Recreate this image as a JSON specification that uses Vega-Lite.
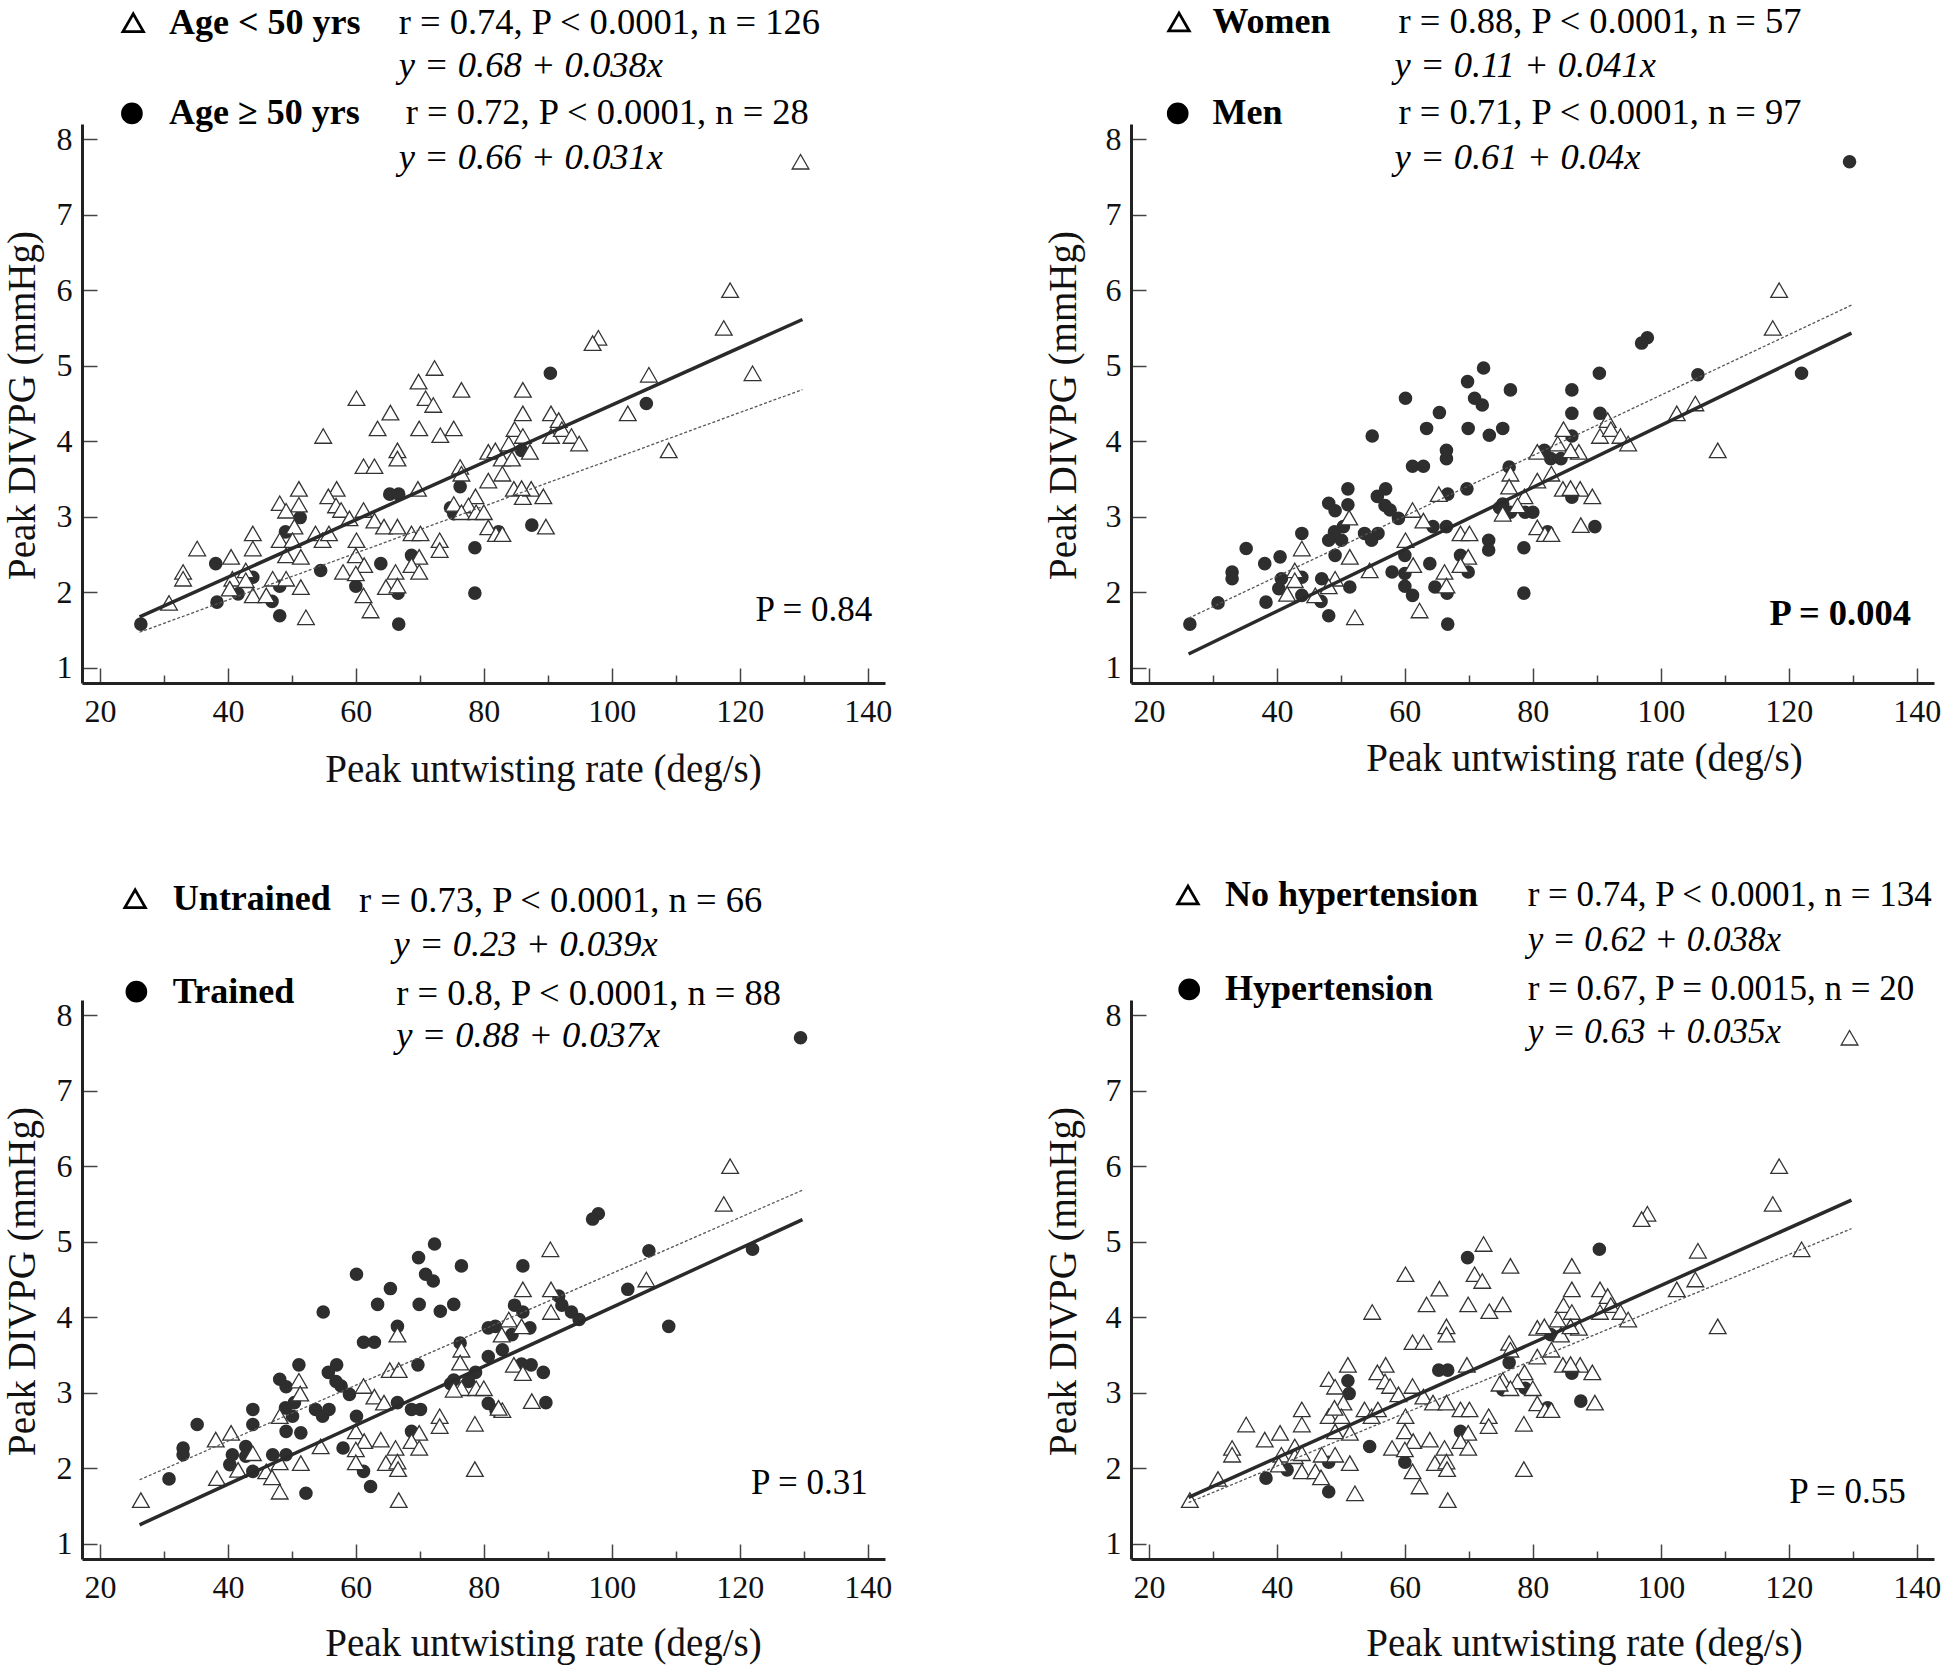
{
"$schema": "https://vega.github.io/schema/vega-lite/v6.json",
"background": "white",
"padding": {"left": 3, "top": 4, "right": 5, "bottom": 5},
"config": {
 "view": {"stroke": null},
 "point": {"opacity": 1},
 "text": {"font": "Liberation Serif", "color": "#000", "baseline": "middle", "align": "left", "fontSize": 36.5},
 "axis": {"domainColor": "#222", "domainWidth": 3, "tickColor": "#444", "tickWidth": 1.5, "labelFont": "Liberation Serif", "labelFontSize": 32, "labelColor": "#111", "titleFont": "Liberation Serif", "titleFontSize": 39, "titleFontWeight": "normal", "titleColor": "#111", "grid": false, "labelOverlap": false, "labelFlush": false, "labelBound": false}
},
"datasets": {
 "pts": [
{"x":65.4,"y":4.38,"a":0,"m":1,"t":1,"h":0},
{"x":63.4,"y":4.17,"a":0,"m":1,"t":1,"h":0},
{"x":54.9,"y":4.07,"a":0,"m":1,"t":1,"h":0},
{"x":66.5,"y":3.88,"a":0,"m":1,"t":1,"h":0},
{"x":66.5,"y":3.77,"a":0,"m":1,"t":0,"h":0},
{"x":61.2,"y":3.67,"a":0,"m":1,"t":1,"h":0},
{"x":62.9,"y":3.67,"a":0,"m":1,"t":1,"h":0},
{"x":51.1,"y":3.37,"a":0,"m":1,"t":1,"h":0},
{"x":57.0,"y":3.37,"a":0,"m":1,"t":1,"h":0},
{"x":48.1,"y":3.18,"a":0,"m":1,"t":1,"h":0},
{"x":51.1,"y":3.16,"a":0,"m":1,"t":0,"h":1},
{"x":49.1,"y":3.08,"a":0,"m":1,"t":1,"h":0},
{"x":55.7,"y":3.27,"a":0,"m":1,"t":1,"h":0},
{"x":56.9,"y":3.15,"a":0,"m":1,"t":1,"h":0},
{"x":57.7,"y":3.09,"a":0,"m":1,"t":1,"h":0},
{"x":59.0,"y":2.98,"a":0,"m":1,"t":1,"h":0},
{"x":61.2,"y":3.09,"a":0,"m":0,"t":0,"h":0},
{"x":62.9,"y":2.95,"a":0,"m":0,"t":0,"h":0},
{"x":64.4,"y":2.87,"a":0,"m":1,"t":0,"h":0},
{"x":66.5,"y":2.87,"a":0,"m":1,"t":1,"h":0},
{"x":68.7,"y":2.78,"a":0,"m":0,"t":1,"h":0},
{"x":43.9,"y":2.78,"a":0,"m":1,"t":1,"h":0},
{"x":43.9,"y":2.58,"a":0,"m":0,"t":1,"h":0},
{"x":35.2,"y":2.58,"a":0,"m":1,"t":1,"h":0},
{"x":50.4,"y":2.87,"a":0,"m":1,"t":1,"h":0},
{"x":48.1,"y":2.69,"a":0,"m":1,"t":0,"h":0},
{"x":50.1,"y":2.69,"a":0,"m":1,"t":1,"h":0},
{"x":53.7,"y":2.78,"a":0,"m":1,"t":1,"h":0},
{"x":54.8,"y":2.69,"a":0,"m":1,"t":1,"h":0},
{"x":55.8,"y":2.78,"a":0,"m":1,"t":1,"h":0},
{"x":60.1,"y":2.69,"a":0,"m":0,"t":1,"h":0},
{"x":49.1,"y":2.49,"a":0,"m":1,"t":1,"h":0},
{"x":51.4,"y":2.47,"a":0,"m":0,"t":1,"h":0},
{"x":60.0,"y":2.49,"a":0,"m":1,"t":0,"h":0},
{"x":61.3,"y":2.36,"a":0,"m":0,"t":0,"h":0},
{"x":40.5,"y":2.47,"a":0,"m":1,"t":0,"h":0},
{"x":33.0,"y":2.27,"a":0,"m":1,"t":1,"h":0},
{"x":33.0,"y":2.18,"a":0,"m":1,"t":1,"h":0},
{"x":42.8,"y":2.29,"a":0,"m":0,"t":1,"h":0},
{"x":40.7,"y":2.18,"a":0,"m":1,"t":1,"h":0},
{"x":42.8,"y":2.16,"a":0,"m":0,"t":1,"h":0},
{"x":47.0,"y":2.18,"a":0,"m":1,"t":1,"h":0},
{"x":49.1,"y":2.18,"a":0,"m":0,"t":1,"h":0},
{"x":58.0,"y":2.27,"a":0,"m":1,"t":1,"h":0},
{"x":60.0,"y":2.25,"a":0,"m":1,"t":0,"h":0},
{"x":66.2,"y":2.27,"a":0,"m":0,"t":0,"h":0},
{"x":40.3,"y":2.05,"a":0,"m":1,"t":1,"h":0},
{"x":43.9,"y":1.96,"a":0,"m":1,"t":1,"h":0},
{"x":46.0,"y":1.96,"a":0,"m":0,"t":0,"h":0},
{"x":51.4,"y":2.07,"a":0,"m":1,"t":0,"h":0},
{"x":61.2,"y":1.96,"a":0,"m":1,"t":1,"h":0},
{"x":64.7,"y":2.07,"a":0,"m":1,"t":0,"h":0},
{"x":66.5,"y":2.09,"a":0,"m":0,"t":0,"h":0},
{"x":62.3,"y":1.76,"a":0,"m":0,"t":1,"h":0},
{"x":52.2,"y":1.67,"a":0,"m":0,"t":1,"h":0},
{"x":30.8,"y":1.86,"a":0,"m":1,"t":1,"h":0},
{"x":97.9,"y":5.37,"a":0,"m":1,"t":1,"h":0},
{"x":97.0,"y":5.30,"a":0,"m":1,"t":1,"h":0},
{"x":72.3,"y":4.97,"a":0,"m":1,"t":1,"h":0},
{"x":69.8,"y":4.79,"a":0,"m":1,"t":1,"h":1},
{"x":76.5,"y":4.68,"a":0,"m":1,"t":1,"h":0},
{"x":86.1,"y":4.68,"a":0,"m":1,"t":1,"h":0},
{"x":70.9,"y":4.57,"a":0,"m":1,"t":1,"h":0},
{"x":72.1,"y":4.48,"a":0,"m":1,"t":1,"h":0},
{"x":105.8,"y":4.88,"a":0,"m":1,"t":1,"h":0},
{"x":102.5,"y":4.37,"a":0,"m":0,"t":1,"h":0},
{"x":86.1,"y":4.37,"a":0,"m":1,"t":0,"h":0},
{"x":90.5,"y":4.37,"a":0,"m":1,"t":0,"h":0},
{"x":91.7,"y":4.28,"a":0,"m":0,"t":1,"h":0},
{"x":69.9,"y":4.17,"a":0,"m":1,"t":1,"h":0},
{"x":75.3,"y":4.17,"a":0,"m":1,"t":1,"h":0},
{"x":73.2,"y":4.08,"a":0,"m":1,"t":1,"h":0},
{"x":84.8,"y":4.16,"a":0,"m":0,"t":1,"h":0},
{"x":86.1,"y":4.07,"a":0,"m":1,"t":1,"h":0},
{"x":90.5,"y":4.07,"a":0,"m":0,"t":0,"h":0},
{"x":92.2,"y":4.16,"a":0,"m":0,"t":1,"h":0},
{"x":93.7,"y":4.07,"a":0,"m":0,"t":1,"h":0},
{"x":94.9,"y":3.97,"a":0,"m":0,"t":1,"h":0},
{"x":108.9,"y":3.88,"a":0,"m":0,"t":1,"h":0},
{"x":87.2,"y":3.86,"a":0,"m":0,"t":1,"h":0},
{"x":80.7,"y":3.86,"a":0,"m":0,"t":1,"h":0},
{"x":81.8,"y":3.88,"a":0,"m":1,"t":1,"h":0},
{"x":83.9,"y":3.97,"a":0,"m":0,"t":0,"h":0},
{"x":82.8,"y":3.77,"a":0,"m":1,"t":0,"h":1},
{"x":84.4,"y":3.77,"a":0,"m":1,"t":1,"h":0},
{"x":76.3,"y":3.66,"a":0,"m":1,"t":1,"h":0},
{"x":76.5,"y":3.57,"a":0,"m":0,"t":0,"h":0},
{"x":82.9,"y":3.57,"a":0,"m":0,"t":1,"h":0},
{"x":80.7,"y":3.48,"a":0,"m":0,"t":1,"h":0},
{"x":69.7,"y":3.37,"a":0,"m":1,"t":1,"h":0},
{"x":84.7,"y":3.37,"a":0,"m":0,"t":0,"h":0},
{"x":86.1,"y":3.26,"a":0,"m":1,"t":0,"h":1},
{"x":87.4,"y":3.37,"a":0,"m":0,"t":1,"h":0},
{"x":89.3,"y":3.27,"a":0,"m":0,"t":1,"h":0},
{"x":78.7,"y":3.27,"a":0,"m":0,"t":1,"h":0},
{"x":77.6,"y":3.15,"a":0,"m":0,"t":1,"h":0},
{"x":75.3,"y":3.17,"a":0,"m":1,"t":1,"h":0},
{"x":76.5,"y":3.06,"a":0,"m":1,"t":0,"h":0},
{"x":78.8,"y":3.06,"a":0,"m":1,"t":0,"h":1},
{"x":80.0,"y":3.06,"a":0,"m":1,"t":0,"h":0},
{"x":80.7,"y":2.86,"a":0,"m":0,"t":1,"h":0},
{"x":81.9,"y":2.77,"a":0,"m":0,"t":1,"h":0},
{"x":82.9,"y":2.77,"a":0,"m":0,"t":0,"h":0},
{"x":89.7,"y":2.87,"a":0,"m":1,"t":1,"h":0},
{"x":70.1,"y":2.78,"a":0,"m":0,"t":1,"h":0},
{"x":73.1,"y":2.69,"a":0,"m":1,"t":0,"h":0},
{"x":73.1,"y":2.56,"a":0,"m":1,"t":0,"h":0},
{"x":69.9,"y":2.47,"a":0,"m":0,"t":0,"h":0},
{"x":68.7,"y":2.36,"a":0,"m":0,"t":0,"h":0},
{"x":69.9,"y":2.27,"a":0,"m":1,"t":0,"h":0},
{"x":129.5,"y":7.7,"a":0,"m":1,"t":1,"h":0},
{"x":118.5,"y":6.0,"a":0,"m":0,"t":0,"h":0},
{"x":117.5,"y":5.5,"a":0,"m":0,"t":0,"h":0},
{"x":122.0,"y":4.9,"a":0,"m":1,"t":1,"h":0},
{"x":60.1,"y":4.57,"a":0,"m":1,"t":1,"h":0},
{"x":85.9,"y":3.38,"a":0,"m":0,"t":1,"h":0},
{"x":26.4,"y":1.58,"a":1,"m":1,"t":0,"h":0},
{"x":38.1,"y":2.38,"a":1,"m":1,"t":0,"h":0},
{"x":38.3,"y":1.87,"a":1,"m":1,"t":0,"h":1},
{"x":41.6,"y":1.98,"a":1,"m":0,"t":0,"h":1},
{"x":43.9,"y":2.20,"a":1,"m":1,"t":0,"h":0},
{"x":46.9,"y":1.88,"a":1,"m":1,"t":0,"h":0},
{"x":48.1,"y":2.08,"a":1,"m":0,"t":0,"h":1},
{"x":48.1,"y":1.69,"a":1,"m":1,"t":0,"h":1},
{"x":51.3,"y":2.99,"a":1,"m":0,"t":0,"h":1},
{"x":49.0,"y":2.80,"a":1,"m":1,"t":1,"h":0},
{"x":54.5,"y":2.29,"a":1,"m":0,"t":0,"h":1},
{"x":60.0,"y":2.08,"a":1,"m":1,"t":0,"h":1},
{"x":63.9,"y":2.38,"a":1,"m":1,"t":0,"h":0},
{"x":65.3,"y":3.30,"a":1,"m":0,"t":0,"h":1},
{"x":66.7,"y":3.30,"a":1,"m":1,"t":0,"h":1},
{"x":68.7,"y":2.49,"a":1,"m":1,"t":1,"h":1},
{"x":66.6,"y":1.99,"a":1,"m":1,"t":0,"h":0},
{"x":66.7,"y":1.58,"a":1,"m":1,"t":0,"h":0},
{"x":90.4,"y":4.90,"a":1,"m":1,"t":0,"h":1},
{"x":105.4,"y":4.50,"a":1,"m":0,"t":0,"h":0},
{"x":85.9,"y":3.88,"a":1,"m":0,"t":0,"h":0},
{"x":76.3,"y":3.40,"a":1,"m":0,"t":0,"h":1},
{"x":75.3,"y":3.04,"a":1,"m":0,"t":0,"h":1},
{"x":74.8,"y":3.12,"a":1,"m":1,"t":1,"h":0},
{"x":87.5,"y":2.89,"a":1,"m":0,"t":0,"h":1},
{"x":78.6,"y":2.59,"a":1,"m":1,"t":0,"h":0},
{"x":78.6,"y":1.99,"a":1,"m":1,"t":0,"h":0},
{"x":82.3,"y":2.80,"a":1,"m":1,"t":0,"h":1}
 ],
 "fits": [
{"p":1,"g":"o","x":26.2,"y":1.676},{"p":1,"g":"o","x":129.8,"y":5.612},
{"p":1,"g":"f","x":26.2,"y":1.472},{"p":1,"g":"f","x":129.8,"y":4.684},
{"p":2,"g":"o","x":26.2,"y":1.184},{"p":2,"g":"o","x":129.8,"y":5.432},
{"p":2,"g":"f","x":26.2,"y":1.658},{"p":2,"g":"f","x":129.8,"y":5.802},
{"p":3,"g":"o","x":26.2,"y":1.252},{"p":3,"g":"o","x":129.8,"y":5.292},
{"p":3,"g":"f","x":26.2,"y":1.849},{"p":3,"g":"f","x":129.8,"y":5.683},
{"p":4,"g":"o","x":26.2,"y":1.616},{"p":4,"g":"o","x":129.8,"y":5.552},
{"p":4,"g":"f","x":26.2,"y":1.547},{"p":4,"g":"f","x":129.8,"y":5.173}
 ],
 "stats": [
{"p":1,"g":"o","label":"Age < 50 yrs","stats":"r = 0.74, P < 0.0001, n = 126","eq":"y = 0.68 + 0.038x"},
{"p":1,"g":"f","label":"Age ≥ 50 yrs","stats":"r = 0.72, P < 0.0001, n = 28","eq":"y = 0.66 + 0.031x"},
{"p":2,"g":"o","label":"Women","stats":"r = 0.88, P < 0.0001, n = 57","eq":"y = 0.11 + 0.041x"},
{"p":2,"g":"f","label":"Men","stats":"r = 0.71, P < 0.0001, n = 97","eq":"y = 0.61 + 0.04x"},
{"p":3,"g":"o","label":"Untrained","stats":"r = 0.73, P < 0.0001, n = 66","eq":"y = 0.23 + 0.039x"},
{"p":3,"g":"f","label":"Trained","stats":"r = 0.8, P < 0.0001, n = 88","eq":"y = 0.88 + 0.037x"},
{"p":4,"g":"o","label":"No hypertension","stats":"r = 0.74, P < 0.0001, n = 134","eq":"y = 0.62 + 0.038x"},
{"p":4,"g":"f","label":"Hypertension","stats":"r = 0.67, P = 0.0015, n = 20","eq":"y = 0.63 + 0.035x"}
 ],
 "pv": [
{"p":1,"t":"P = 0.84"},{"p":2,"t":"P = 0.004"},{"p":3,"t":"P = 0.31"},{"p":4,"t":"P = 0.55"}
 ]
},
"columns": 2,
"spacing": {"row": 317, "column": 246},
"bounds": "flush",
"concat": [
{
 "width": 803, "height": 559,
 "layer": [
  {"data": {"name": "pts"}, "transform": [{"filter": "datum.a == 1"}], "mark": {"type": "point", "shape": "circle", "filled": true, "color": "#2e2e2e", "size": 185},
   "encoding": {
    "x": {"field": "x", "type": "quantitative", "scale": {"domain": [17.2, 142.7], "nice": false, "zero": false},
     "axis": {"title": "Peak untwisting rate (deg/s)", "values": [20,30,40,50,60,70,80,90,100,110,120,130,140], "labelExpr": "datum.value % 20 === 0 ? datum.label : ''", "tickSize": {"condition": {"test": "datum.value % 20 === 0", "value": -15}, "value": -8}, "labelPadding": 28, "titleX": 461, "titleY": 98, "titleAlign": "center", "titleBaseline": "alphabetic"}},
    "y": {"field": "y", "type": "quantitative", "scale": {"domain": [0.8, 8.2], "nice": false, "zero": false},
     "axis": {"title": "Peak DIVPG (mmHg)", "values": [1,1.5,2,2.5,3,3.5,4,4.5,5,5.5,6,6.5,7,7.5,8], "labelExpr": "datum.value % 1 === 0 ? format(datum.value, 'd') : ''", "tickSize": {"condition": {"test": "datum.value % 1 === 0", "value": -15}, "value": -7}, "labelPadding": 25, "titleX": -60, "titleY": 281, "titleAngle": -90, "titleAlign": "center", "titleBaseline": "middle"}}
   }},
  {"data": {"name": "pts"}, "transform": [{"filter": "datum.a == 0"}], "mark": {"type": "point", "shape": "triangle-up", "filled": true, "fill": "white", "stroke": "#333", "strokeWidth": 1.3, "size": 280}, "encoding": {"x": {"field": "x", "type": "quantitative"}, "y": {"field": "y", "type": "quantitative"}}},
  {"data": {"name": "fits"}, "transform": [{"filter": "datum.p == 1 && datum.g == 'o'"}], "mark": {"type": "line", "color": "#2a2a2a", "strokeWidth": 3.5}, "encoding": {"x": {"field": "x", "type": "quantitative"}, "y": {"field": "y", "type": "quantitative"}}},
  {"data": {"name": "fits"}, "transform": [{"filter": "datum.p == 1 && datum.g == 'f'"}], "mark": {"type": "line", "color": "#555", "strokeWidth": 1.3, "strokeDash": [3, 2]}, "encoding": {"x": {"field": "x", "type": "quantitative"}, "y": {"field": "y", "type": "quantitative"}}},
  {"data": {"name": "stats"}, "transform": [{"filter": "datum.p == 1 && datum.g == 'o'"}], "mark": {"type": "point", "shape": "triangle-up", "filled": true, "fill": "white", "stroke": "#000", "strokeWidth": 2.8, "size": 420}, "encoding": {"x": {"datum": 25.2, "type": "quantitative"}, "y": {"datum": 9.54, "type": "quantitative"}}},
  {"data": {"name": "stats"}, "transform": [{"filter": "datum.p == 1 && datum.g == 'f'"}], "mark": {"type": "point", "shape": "circle", "filled": true, "color": "#000", "size": 470}, "encoding": {"x": {"datum": 25.0, "type": "quantitative"}, "y": {"datum": 8.34, "type": "quantitative"}}},
  {"data": {"name": "stats"}, "transform": [{"filter": "datum.p == 1 && datum.g == 'o'"}], "mark": {"type": "text", "fontWeight": "bold", "fontSize": 36}, "encoding": {"x": {"datum": 30.8, "type": "quantitative"}, "y": {"datum": 9.54, "type": "quantitative"}, "text": {"field": "label"}}},
  {"data": {"name": "stats"}, "transform": [{"filter": "datum.p == 1 && datum.g == 'f'"}], "mark": {"type": "text", "fontWeight": "bold", "fontSize": 36}, "encoding": {"x": {"datum": 30.8, "type": "quantitative"}, "y": {"datum": 8.34, "type": "quantitative"}, "text": {"field": "label"}}},
  {"data": {"name": "stats"}, "transform": [{"filter": "datum.p == 1 && datum.g == 'o'"}], "mark": {"type": "text"}, "encoding": {"x": {"datum": 66.7, "type": "quantitative"}, "y": {"datum": 9.54, "type": "quantitative"}, "text": {"field": "stats"}}},
  {"data": {"name": "stats"}, "transform": [{"filter": "datum.p == 1 && datum.g == 'f'"}], "mark": {"type": "text"}, "encoding": {"x": {"datum": 67.8, "type": "quantitative"}, "y": {"datum": 8.34, "type": "quantitative"}, "text": {"field": "stats"}}},
  {"data": {"name": "stats"}, "transform": [{"filter": "datum.p == 1 && datum.g == 'o'"}], "mark": {"type": "text", "fontStyle": "italic"}, "encoding": {"x": {"datum": 66.7, "type": "quantitative"}, "y": {"datum": 8.97, "type": "quantitative"}, "text": {"field": "eq"}}},
  {"data": {"name": "stats"}, "transform": [{"filter": "datum.p == 1 && datum.g == 'f'"}], "mark": {"type": "text", "fontStyle": "italic"}, "encoding": {"x": {"datum": 66.7, "type": "quantitative"}, "y": {"datum": 7.75, "type": "quantitative"}, "text": {"field": "eq"}}},
  {"data": {"name": "pv"}, "transform": [{"filter": "datum.p == 1"}], "mark": {"type": "text", "align": "right", "fontSize": 35}, "encoding": {"x": {"datum": 140.7, "type": "quantitative"}, "y": {"datum": 1.76, "type": "quantitative"}, "text": {"field": "t"}}}
 ]
},
{
 "width": 803, "height": 559,
 "layer": [
  {"data": {"name": "pts"}, "transform": [{"filter": "datum.m == 1"}], "mark": {"type": "point", "shape": "circle", "filled": true, "color": "#2e2e2e", "size": 185},
   "encoding": {
    "x": {"field": "x", "type": "quantitative", "scale": {"domain": [17.2, 142.7], "nice": false, "zero": false},
     "axis": {"title": "Peak untwisting rate (deg/s)", "values": [20,30,40,50,60,70,80,90,100,110,120,130,140], "labelExpr": "datum.value % 20 === 0 ? datum.label : ''", "tickSize": {"condition": {"test": "datum.value % 20 === 0", "value": -15}, "value": -8}, "labelPadding": 28, "titleX": 453, "titleY": 87, "titleAlign": "center", "titleBaseline": "alphabetic"}},
    "y": {"field": "y", "type": "quantitative", "scale": {"domain": [0.8, 8.2], "nice": false, "zero": false},
     "axis": {"title": "Peak DIVPG (mmHg)", "values": [1,1.5,2,2.5,3,3.5,4,4.5,5,5.5,6,6.5,7,7.5,8], "labelExpr": "datum.value % 1 === 0 ? format(datum.value, 'd') : ''", "tickSize": {"condition": {"test": "datum.value % 1 === 0", "value": -15}, "value": -7}, "labelPadding": 25, "titleX": -68, "titleY": 281, "titleAngle": -90, "titleAlign": "center", "titleBaseline": "middle"}}
   }},
  {"data": {"name": "pts"}, "transform": [{"filter": "datum.m == 0"}], "mark": {"type": "point", "shape": "triangle-up", "filled": true, "fill": "white", "stroke": "#333", "strokeWidth": 1.3, "size": 280}, "encoding": {"x": {"field": "x", "type": "quantitative"}, "y": {"field": "y", "type": "quantitative"}}},
  {"data": {"name": "fits"}, "transform": [{"filter": "datum.p == 2 && datum.g == 'o'"}], "mark": {"type": "line", "color": "#2a2a2a", "strokeWidth": 3.5}, "encoding": {"x": {"field": "x", "type": "quantitative"}, "y": {"field": "y", "type": "quantitative"}}},
  {"data": {"name": "fits"}, "transform": [{"filter": "datum.p == 2 && datum.g == 'f'"}], "mark": {"type": "line", "color": "#555", "strokeWidth": 1.3, "strokeDash": [3, 2]}, "encoding": {"x": {"field": "x", "type": "quantitative"}, "y": {"field": "y", "type": "quantitative"}}},
  {"data": {"name": "stats"}, "transform": [{"filter": "datum.p == 2 && datum.g == 'o'"}], "mark": {"type": "point", "shape": "triangle-up", "filled": true, "fill": "white", "stroke": "#000", "strokeWidth": 2.8, "size": 420}, "encoding": {"x": {"datum": 24.7, "type": "quantitative"}, "y": {"datum": 9.55, "type": "quantitative"}}},
  {"data": {"name": "stats"}, "transform": [{"filter": "datum.p == 2 && datum.g == 'f'"}], "mark": {"type": "point", "shape": "circle", "filled": true, "color": "#000", "size": 470}, "encoding": {"x": {"datum": 24.5, "type": "quantitative"}, "y": {"datum": 8.34, "type": "quantitative"}}},
  {"data": {"name": "stats"}, "transform": [{"filter": "datum.p == 2 && datum.g == 'o'"}], "mark": {"type": "text", "fontWeight": "bold", "fontSize": 36}, "encoding": {"x": {"datum": 29.95, "type": "quantitative"}, "y": {"datum": 9.55, "type": "quantitative"}, "text": {"field": "label"}}},
  {"data": {"name": "stats"}, "transform": [{"filter": "datum.p == 2 && datum.g == 'f'"}], "mark": {"type": "text", "fontWeight": "bold", "fontSize": 36}, "encoding": {"x": {"datum": 29.95, "type": "quantitative"}, "y": {"datum": 8.34, "type": "quantitative"}, "text": {"field": "label"}}},
  {"data": {"name": "stats"}, "transform": [{"filter": "datum.p == 2 && datum.g == 'o'"}], "mark": {"type": "text"}, "encoding": {"x": {"datum": 59.0, "type": "quantitative"}, "y": {"datum": 9.55, "type": "quantitative"}, "text": {"field": "stats"}}},
  {"data": {"name": "stats"}, "transform": [{"filter": "datum.p == 2 && datum.g == 'f'"}], "mark": {"type": "text"}, "encoding": {"x": {"datum": 59.0, "type": "quantitative"}, "y": {"datum": 8.34, "type": "quantitative"}, "text": {"field": "stats"}}},
  {"data": {"name": "stats"}, "transform": [{"filter": "datum.p == 2 && datum.g == 'o'"}], "mark": {"type": "text", "fontStyle": "italic"}, "encoding": {"x": {"datum": 58.4, "type": "quantitative"}, "y": {"datum": 8.97, "type": "quantitative"}, "text": {"field": "eq"}}},
  {"data": {"name": "stats"}, "transform": [{"filter": "datum.p == 2 && datum.g == 'f'"}], "mark": {"type": "text", "fontStyle": "italic"}, "encoding": {"x": {"datum": 58.4, "type": "quantitative"}, "y": {"datum": 7.75, "type": "quantitative"}, "text": {"field": "eq"}}},
  {"data": {"name": "pv"}, "transform": [{"filter": "datum.p == 2"}], "mark": {"type": "text", "align": "right", "fontWeight": "bold", "fontSize": 36.5}, "encoding": {"x": {"datum": 139.1, "type": "quantitative"}, "y": {"datum": 1.71, "type": "quantitative"}, "text": {"field": "t"}}}
 ]
},
{
 "width": 803, "height": 559,
 "layer": [
  {"data": {"name": "pts"}, "transform": [{"filter": "datum.t == 1"}], "mark": {"type": "point", "shape": "circle", "filled": true, "color": "#2e2e2e", "size": 185},
   "encoding": {
    "x": {"field": "x", "type": "quantitative", "scale": {"domain": [17.2, 142.7], "nice": false, "zero": false},
     "axis": {"title": "Peak untwisting rate (deg/s)", "values": [20,30,40,50,60,70,80,90,100,110,120,130,140], "labelExpr": "datum.value % 20 === 0 ? datum.label : ''", "tickSize": {"condition": {"test": "datum.value % 20 === 0", "value": -15}, "value": -8}, "labelPadding": 28, "titleX": 461, "titleY": 96, "titleAlign": "center", "titleBaseline": "alphabetic"}},
    "y": {"field": "y", "type": "quantitative", "scale": {"domain": [0.8, 8.2], "nice": false, "zero": false},
     "axis": {"title": "Peak DIVPG (mmHg)", "values": [1,1.5,2,2.5,3,3.5,4,4.5,5,5.5,6,6.5,7,7.5,8], "labelExpr": "datum.value % 1 === 0 ? format(datum.value, 'd') : ''", "tickSize": {"condition": {"test": "datum.value % 1 === 0", "value": -15}, "value": -7}, "labelPadding": 25, "titleX": -60, "titleY": 281, "titleAngle": -90, "titleAlign": "center", "titleBaseline": "middle"}}
   }},
  {"data": {"name": "pts"}, "transform": [{"filter": "datum.t == 0"}], "mark": {"type": "point", "shape": "triangle-up", "filled": true, "fill": "white", "stroke": "#333", "strokeWidth": 1.3, "size": 280}, "encoding": {"x": {"field": "x", "type": "quantitative"}, "y": {"field": "y", "type": "quantitative"}}},
  {"data": {"name": "fits"}, "transform": [{"filter": "datum.p == 3 && datum.g == 'o'"}], "mark": {"type": "line", "color": "#2a2a2a", "strokeWidth": 3.5}, "encoding": {"x": {"field": "x", "type": "quantitative"}, "y": {"field": "y", "type": "quantitative"}}},
  {"data": {"name": "fits"}, "transform": [{"filter": "datum.p == 3 && datum.g == 'f'"}], "mark": {"type": "line", "color": "#555", "strokeWidth": 1.3, "strokeDash": [3, 2]}, "encoding": {"x": {"field": "x", "type": "quantitative"}, "y": {"field": "y", "type": "quantitative"}}},
  {"data": {"name": "stats"}, "transform": [{"filter": "datum.p == 3 && datum.g == 'o'"}], "mark": {"type": "point", "shape": "triangle-up", "filled": true, "fill": "white", "stroke": "#000", "strokeWidth": 2.8, "size": 420}, "encoding": {"x": {"datum": 25.5, "type": "quantitative"}, "y": {"datum": 9.54, "type": "quantitative"}}},
  {"data": {"name": "stats"}, "transform": [{"filter": "datum.p == 3 && datum.g == 'f'"}], "mark": {"type": "point", "shape": "circle", "filled": true, "color": "#000", "size": 470}, "encoding": {"x": {"datum": 25.7, "type": "quantitative"}, "y": {"datum": 8.31, "type": "quantitative"}}},
  {"data": {"name": "stats"}, "transform": [{"filter": "datum.p == 3 && datum.g == 'o'"}], "mark": {"type": "text", "fontWeight": "bold", "fontSize": 36}, "encoding": {"x": {"datum": 31.4, "type": "quantitative"}, "y": {"datum": 9.54, "type": "quantitative"}, "text": {"field": "label"}}},
  {"data": {"name": "stats"}, "transform": [{"filter": "datum.p == 3 && datum.g == 'f'"}], "mark": {"type": "text", "fontWeight": "bold", "fontSize": 36}, "encoding": {"x": {"datum": 31.4, "type": "quantitative"}, "y": {"datum": 8.31, "type": "quantitative"}, "text": {"field": "label"}}},
  {"data": {"name": "stats"}, "transform": [{"filter": "datum.p == 3 && datum.g == 'o'"}], "mark": {"type": "text"}, "encoding": {"x": {"datum": 60.5, "type": "quantitative"}, "y": {"datum": 9.51, "type": "quantitative"}, "text": {"field": "stats"}}},
  {"data": {"name": "stats"}, "transform": [{"filter": "datum.p == 3 && datum.g == 'f'"}], "mark": {"type": "text"}, "encoding": {"x": {"datum": 66.3, "type": "quantitative"}, "y": {"datum": 8.28, "type": "quantitative"}, "text": {"field": "stats"}}},
  {"data": {"name": "stats"}, "transform": [{"filter": "datum.p == 3 && datum.g == 'o'"}], "mark": {"type": "text", "fontStyle": "italic"}, "encoding": {"x": {"datum": 65.9, "type": "quantitative"}, "y": {"datum": 8.93, "type": "quantitative"}, "text": {"field": "eq"}}},
  {"data": {"name": "stats"}, "transform": [{"filter": "datum.p == 3 && datum.g == 'f'"}], "mark": {"type": "text", "fontStyle": "italic"}, "encoding": {"x": {"datum": 66.3, "type": "quantitative"}, "y": {"datum": 7.72, "type": "quantitative"}, "text": {"field": "eq"}}},
  {"data": {"name": "pv"}, "transform": [{"filter": "datum.p == 3"}], "mark": {"type": "text", "align": "right", "fontSize": 35}, "encoding": {"x": {"datum": 140.0, "type": "quantitative"}, "y": {"datum": 1.80, "type": "quantitative"}, "text": {"field": "t"}}}
 ]
},
{
 "width": 803, "height": 559,
 "layer": [
  {"data": {"name": "pts"}, "transform": [{"filter": "datum.h == 1"}], "mark": {"type": "point", "shape": "circle", "filled": true, "color": "#2e2e2e", "size": 185},
   "encoding": {
    "x": {"field": "x", "type": "quantitative", "scale": {"domain": [17.2, 142.7], "nice": false, "zero": false},
     "axis": {"title": "Peak untwisting rate (deg/s)", "values": [20,30,40,50,60,70,80,90,100,110,120,130,140], "labelExpr": "datum.value % 20 === 0 ? datum.label : ''", "tickSize": {"condition": {"test": "datum.value % 20 === 0", "value": -15}, "value": -8}, "labelPadding": 28, "titleX": 453, "titleY": 96, "titleAlign": "center", "titleBaseline": "alphabetic"}},
    "y": {"field": "y", "type": "quantitative", "scale": {"domain": [0.8, 8.2], "nice": false, "zero": false},
     "axis": {"title": "Peak DIVPG (mmHg)", "values": [1,1.5,2,2.5,3,3.5,4,4.5,5,5.5,6,6.5,7,7.5,8], "labelExpr": "datum.value % 1 === 0 ? format(datum.value, 'd') : ''", "tickSize": {"condition": {"test": "datum.value % 1 === 0", "value": -15}, "value": -7}, "labelPadding": 25, "titleX": -68, "titleY": 281, "titleAngle": -90, "titleAlign": "center", "titleBaseline": "middle"}}
   }},
  {"data": {"name": "pts"}, "transform": [{"filter": "datum.h == 0"}], "mark": {"type": "point", "shape": "triangle-up", "filled": true, "fill": "white", "stroke": "#333", "strokeWidth": 1.3, "size": 280}, "encoding": {"x": {"field": "x", "type": "quantitative"}, "y": {"field": "y", "type": "quantitative"}}},
  {"data": {"name": "fits"}, "transform": [{"filter": "datum.p == 4 && datum.g == 'o'"}], "mark": {"type": "line", "color": "#2a2a2a", "strokeWidth": 3.5}, "encoding": {"x": {"field": "x", "type": "quantitative"}, "y": {"field": "y", "type": "quantitative"}}},
  {"data": {"name": "fits"}, "transform": [{"filter": "datum.p == 4 && datum.g == 'f'"}], "mark": {"type": "line", "color": "#555", "strokeWidth": 1.3, "strokeDash": [3, 2]}, "encoding": {"x": {"field": "x", "type": "quantitative"}, "y": {"field": "y", "type": "quantitative"}}},
  {"data": {"name": "stats"}, "transform": [{"filter": "datum.p == 4 && datum.g == 'o'"}], "mark": {"type": "point", "shape": "triangle-up", "filled": true, "fill": "white", "stroke": "#000", "strokeWidth": 2.8, "size": 420}, "encoding": {"x": {"datum": 26.1, "type": "quantitative"}, "y": {"datum": 9.59, "type": "quantitative"}}},
  {"data": {"name": "stats"}, "transform": [{"filter": "datum.p == 4 && datum.g == 'f'"}], "mark": {"type": "point", "shape": "circle", "filled": true, "color": "#000", "size": 470}, "encoding": {"x": {"datum": 26.3, "type": "quantitative"}, "y": {"datum": 8.34, "type": "quantitative"}}},
  {"data": {"name": "stats"}, "transform": [{"filter": "datum.p == 4 && datum.g == 'o'"}], "mark": {"type": "text", "fontWeight": "bold", "fontSize": 36}, "encoding": {"x": {"datum": 31.9, "type": "quantitative"}, "y": {"datum": 9.59, "type": "quantitative"}, "text": {"field": "label"}}},
  {"data": {"name": "stats"}, "transform": [{"filter": "datum.p == 4 && datum.g == 'f'"}], "mark": {"type": "text", "fontWeight": "bold", "fontSize": 36}, "encoding": {"x": {"datum": 31.9, "type": "quantitative"}, "y": {"datum": 8.34, "type": "quantitative"}, "text": {"field": "label"}}},
  {"data": {"name": "stats"}, "transform": [{"filter": "datum.p == 4 && datum.g == 'o'"}], "mark": {"type": "text", "fontSize": 35}, "encoding": {"x": {"datum": 79.2, "type": "quantitative"}, "y": {"datum": 9.59, "type": "quantitative"}, "text": {"field": "stats"}}},
  {"data": {"name": "stats"}, "transform": [{"filter": "datum.p == 4 && datum.g == 'f'"}], "mark": {"type": "text", "fontSize": 35}, "encoding": {"x": {"datum": 79.2, "type": "quantitative"}, "y": {"datum": 8.34, "type": "quantitative"}, "text": {"field": "stats"}}},
  {"data": {"name": "stats"}, "transform": [{"filter": "datum.p == 4 && datum.g == 'o'"}], "mark": {"type": "text", "fontStyle": "italic", "fontSize": 35}, "encoding": {"x": {"datum": 79.2, "type": "quantitative"}, "y": {"datum": 9.0, "type": "quantitative"}, "text": {"field": "eq"}}},
  {"data": {"name": "stats"}, "transform": [{"filter": "datum.p == 4 && datum.g == 'f'"}], "mark": {"type": "text", "fontStyle": "italic", "fontSize": 35}, "encoding": {"x": {"datum": 79.2, "type": "quantitative"}, "y": {"datum": 7.77, "type": "quantitative"}, "text": {"field": "eq"}}},
  {"data": {"name": "pv"}, "transform": [{"filter": "datum.p == 4"}], "mark": {"type": "text", "align": "right", "fontSize": 35}, "encoding": {"x": {"datum": 138.3, "type": "quantitative"}, "y": {"datum": 1.69, "type": "quantitative"}, "text": {"field": "t"}}}
 ]
}
]
}
